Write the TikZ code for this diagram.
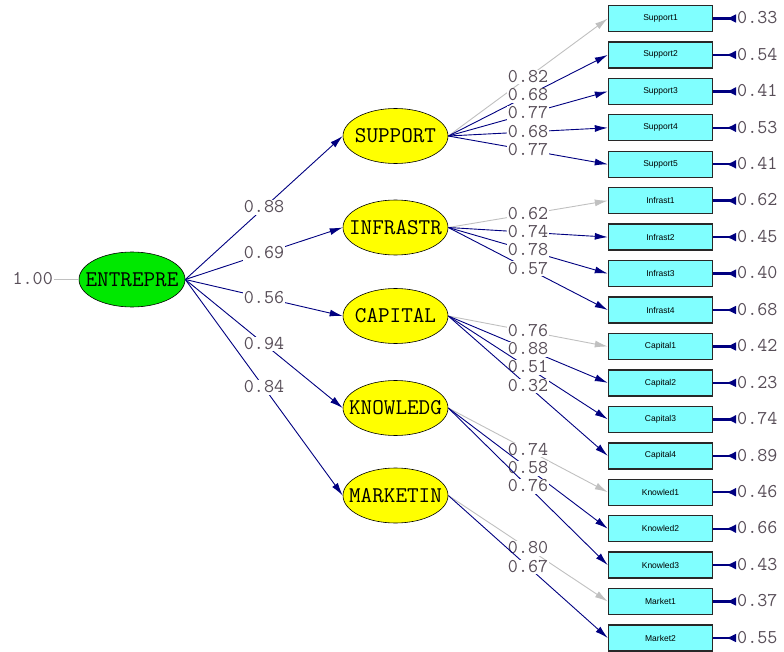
\documentclass[tikz,border=0pt]{standalone}
\usepackage{fontspec}
\setsansfont{Liberation Sans}
\usetikzlibrary{arrows.meta,shapes.geometric}
\definecolor{pathnavy}{RGB}{0,0,128}
\definecolor{fixgray}{RGB}{192,192,192}
\definecolor{numtext}{RGB}{88,78,88}
\definecolor{boxcyan}{RGB}{128,255,255}
\definecolor{boxline}{RGB}{40,40,40}
\definecolor{latgreen}{RGB}{0,232,0}
\definecolor{latyellow}{RGB}{255,255,0}

\begin{document}
\begin{tikzpicture}[x=1pt, y=-1pt,
		latent/.style={ellipse, draw=black, line width=0.6pt, fill=latyellow, minimum width=105pt, minimum height=55pt, inner xsep=-11pt, inner ysep=0pt, font=\ttfamily\fontsize{22.5}{22.5}\selectfont},
		obs/.style={rectangle, draw=boxline, line width=1.4pt, fill=boxcyan, minimum width=104pt, minimum height=26pt, inner sep=0pt, font=\sffamily\fontsize{8.5}{8.5}\selectfont},
		coef/.style={fill=white, inner sep=1pt, text=numtext, font=\ttfamily\fontsize{19.5}{19.5}\selectfont, text height=11.5pt, text depth=1pt},
		load/.style={draw=pathnavy, line width=0.9pt, -{Latex[length=13pt,width=7pt]}},
		fixload/.style={draw=fixgray, line width=0.9pt, -{Latex[length=13pt,width=7pt]}},
		errpath/.style={draw=pathnavy, line width=2.4pt, -{Latex[reversed,length=10pt,width=9pt]}}]
			
			\useasboundingbox (0,0) rectangle (784,652);
			
			\node[latent, fill=latgreen, minimum width=106pt] (entre) at (132,279.5) {ENTREPRE};
			\node[latent] (supp) at (395.5,136) {SUPPORT};
			\node[latent] (infra) at (395.5,227.5) {INFRASTR};
			\node[latent] (capi) at (395.5,316) {CAPITAL};
			\node[latent] (know) at (395.5,408) {KNOWLEDG};
			\node[latent] (mark) at (395.5,495.5) {MARKETIN};
			
			\node[obs] (support1) at (660.5,18.5) {Support1};
			\node[obs] (support2) at (660.5,54.9) {Support2};
			\node[obs] (support3) at (660.5,91.4) {Support3};
			\node[obs] (support4) at (660.5,127.8) {Support4};
			\node[obs] (support5) at (660.5,164.3) {Support5};
			\node[obs] (infrast1) at (660.5,200.7) {Infrast1};
			\node[obs] (infrast2) at (660.5,237.1) {Infrast2};
			\node[obs] (infrast3) at (660.5,273.6) {Infrast3};
			\node[obs] (infrast4) at (660.5,310.0) {Infrast4};
			\node[obs] (capital1) at (660.5,346.5) {Capital1};
			\node[obs] (capital2) at (660.5,382.9) {Capital2};
			\node[obs] (capital3) at (660.5,419.3) {Capital3};
			\node[obs] (capital4) at (660.5,455.8) {Capital4};
			\node[obs] (knowled1) at (660.5,492.2) {Knowled1};
			\node[obs] (knowled2) at (660.5,528.7) {Knowled2};
			\node[obs] (knowled3) at (660.5,565.1) {Knowled3};
			\node[obs] (market1) at (660.5,601.5) {Market1};
			\node[obs] (market2) at (660.5,638.0) {Market2};
			
			\node[coef, anchor=east] (entrevar) at (54,279.5) {1.00};
			\draw[draw=fixgray, line width=0.9pt] (entrevar.east) -- (entre.west);
			
			\draw[load] (entre.east) -- node[coef] {0.88} (supp.west);
			\draw[load] (entre.east) -- node[coef] {0.69} (infra.west);
			\draw[load] (entre.east) -- node[coef] {0.56} (capi.west);
			\draw[load] (entre.east) -- node[coef] {0.94} (know.west);
			\draw[load] (entre.east) -- node[coef] {0.84} (mark.west);
			
			\draw[fixload] (supp.east) -- node[coef] {0.82} (support1.west);
			\draw[load] (supp.east) -- node[coef] {0.68} (support2.west);
			\draw[load] (supp.east) -- node[coef] {0.77} (support3.west);
			\draw[load] (supp.east) -- node[coef] {0.68} (support4.west);
			\draw[load] (supp.east) -- node[coef] {0.77} (support5.west);
			
			\draw[fixload] (infra.east) -- node[coef] {0.62} (infrast1.west);
			\draw[load] (infra.east) -- node[coef] {0.74} (infrast2.west);
			\draw[load] (infra.east) -- node[coef] {0.78} (infrast3.west);
			\draw[load] (infra.east) -- node[coef] {0.57} (infrast4.west);
			
			\draw[fixload] (capi.east) -- node[coef] {0.76} (capital1.west);
			\draw[load] (capi.east) -- node[coef] {0.88} (capital2.west);
			\draw[load] (capi.east) -- node[coef] {0.51} (capital3.west);
			\draw[load] (capi.east) -- node[coef] {0.32} (capital4.west);
			
			\draw[fixload] (know.east) -- node[coef] {0.74} (knowled1.west);
			\draw[load] (know.east) -- node[coef] {0.58} (knowled2.west);
			\draw[load] (know.east) -- node[coef] {0.76} (knowled3.west);
			
			\draw[fixload] (mark.east) -- node[coef] {0.80} (market1.west);
			\draw[load] (mark.east) -- node[coef] {0.67} (market2.west);
			
			\node[coef, anchor=west] (esupport1) at (736,18.5) {0.33};
			\node[coef, anchor=west] (esupport2) at (736,54.9) {0.54};
			\node[coef, anchor=west] (esupport3) at (736,91.4) {0.41};
			\node[coef, anchor=west] (esupport4) at (736,127.8) {0.53};
			\node[coef, anchor=west] (esupport5) at (736,164.3) {0.41};
			\node[coef, anchor=west] (einfrast1) at (736,200.7) {0.62};
			\node[coef, anchor=west] (einfrast2) at (736,237.1) {0.45};
			\node[coef, anchor=west] (einfrast3) at (736,273.6) {0.40};
			\node[coef, anchor=west] (einfrast4) at (736,310.0) {0.68};
			\node[coef, anchor=west] (ecapital1) at (736,346.5) {0.42};
			\node[coef, anchor=west] (ecapital2) at (736,382.9) {0.23};
			\node[coef, anchor=west] (ecapital3) at (736,419.3) {0.74};
			\node[coef, anchor=west] (ecapital4) at (736,455.8) {0.89};
			\node[coef, anchor=west] (eknowled1) at (736,492.2) {0.46};
			\node[coef, anchor=west] (eknowled2) at (736,528.7) {0.66};
			\node[coef, anchor=west] (eknowled3) at (736,565.1) {0.43};
			\node[coef, anchor=west] (emarket1) at (736,601.5) {0.37};
			\node[coef, anchor=west] (emarket2) at (736,638.0) {0.55};
			
			\draw[errpath] (support1.east) -- (esupport1.west);
			\draw[errpath] (support2.east) -- (esupport2.west);
			\draw[errpath] (support3.east) -- (esupport3.west);
			\draw[errpath] (support4.east) -- (esupport4.west);
			\draw[errpath] (support5.east) -- (esupport5.west);
			\draw[errpath] (infrast1.east) -- (einfrast1.west);
			\draw[errpath] (infrast2.east) -- (einfrast2.west);
			\draw[errpath] (infrast3.east) -- (einfrast3.west);
			\draw[errpath] (infrast4.east) -- (einfrast4.west);
			\draw[errpath] (capital1.east) -- (ecapital1.west);
			\draw[errpath] (capital2.east) -- (ecapital2.west);
			\draw[errpath] (capital3.east) -- (ecapital3.west);
			\draw[errpath] (capital4.east) -- (ecapital4.west);
			\draw[errpath] (knowled1.east) -- (eknowled1.west);
			\draw[errpath] (knowled2.east) -- (eknowled2.west);
			\draw[errpath] (knowled3.east) -- (eknowled3.west);
			\draw[errpath] (market1.east) -- (emarket1.west);
			\draw[errpath] (market2.east) -- (emarket2.west);
		\end{tikzpicture}
\end{document}
